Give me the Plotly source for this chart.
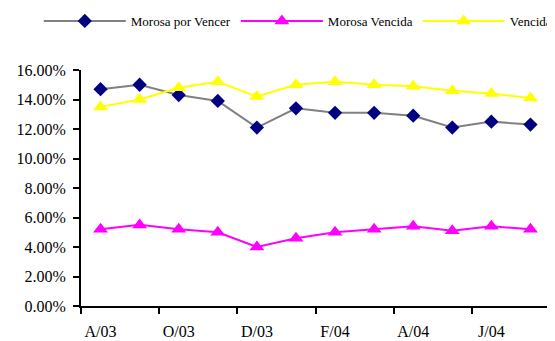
import plotly.graph_objects as go

months = ["A/03", "S/03", "O/03", "N/03", "D/03", "E/04", "F/04", "M/04", "A/04", "M/04", "J/04", "J/04"]
morosa_por_vencer = [14.7, 15.0, 14.3, 13.9, 12.1, 13.4, 13.1, 13.1, 12.9, 12.1, 12.5, 12.3]
morosa_vencida = [5.2, 5.5, 5.2, 5.0, 4.0, 4.6, 5.0, 5.2, 5.4, 5.1, 5.4, 5.2]
vencida = [13.5, 14.0, 14.8, 15.2, 14.2, 15.0, 15.2, 15.0, 14.9, 14.6, 14.4, 14.1]
y_ticks = [0, 2, 4, 6, 8, 10, 12, 14, 16]

x = list(range(len(months)))
label_idx = x[::2]

FONT = "Times New Roman, Liberation Serif, serif"

fig = go.Figure()
fig.add_trace(go.Scatter(
    x=x, y=morosa_por_vencer, name="Morosa por Vencer", mode="lines+markers",
    line=dict(color="#808080", width=2),
    marker=dict(symbol="diamond", size=11, color="#000080")))
fig.add_trace(go.Scatter(
    x=x, y=morosa_vencida, name="Morosa Vencida", mode="lines+markers",
    line=dict(color="#FF00FF", width=2),
    marker=dict(symbol="triangle-up", size=13, color="#FF00FF")))
fig.add_trace(go.Scatter(
    x=x, y=vencida, name="Vencida", mode="lines+markers",
    line=dict(color="#FFFF00", width=2),
    marker=dict(symbol="triangle-up", size=13, color="#FFFF00")))

# The page body has an 8px margin, so the figure is drawn 8px smaller and offset.
fig.update_layout(
    width=547, height=333,
    margin=dict(l=73, r=5, t=62, b=35, autoexpand=False),
    paper_bgcolor="white", plot_bgcolor="white",
    font=dict(family=FONT, size=16, color="black"),
    showlegend=True,
    legend=dict(orientation="h", xref="paper", yref="paper",
                x=-0.09, y=1.2076, xanchor="left", yanchor="middle",
                font=dict(family=FONT, size=13), itemwidth=82,
                bgcolor="rgba(0,0,0,0)"),
    xaxis=dict(range=[-0.5, 11.5], tickmode="array", tickvals=label_idx,
               ticktext=[months[i] for i in label_idx], ticks="",
               showline=True, linecolor="black", linewidth=2,
               showgrid=False, zeroline=False, ticklabelstandoff=10,
               tickfont=dict(family=FONT, size=16),
               minor=dict(ticks="outside", tick0=-0.5, dtick=2, ticklen=6,
                          tickwidth=2, tickcolor="black", showgrid=False)),
    yaxis=dict(range=[0, 16], tickmode="array", tickvals=y_ticks,
               ticktext=[f"{v:.2f}%" for v in y_ticks],
               ticks="outside", ticklen=6, tickwidth=2, tickcolor="black",
               tickfont=dict(family=FONT, size=16),
               showline=True, linecolor="black", linewidth=2,
               showgrid=False, zeroline=False, ticklabelstandoff=4),
)

fig.write_html("out.html")
